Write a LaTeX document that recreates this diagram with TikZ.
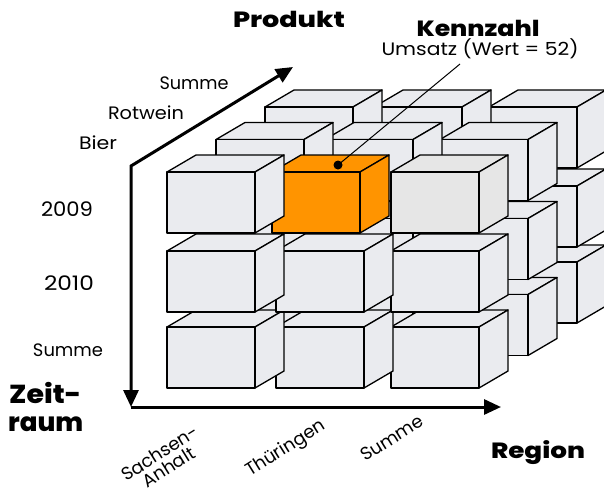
\documentclass[tikz,border=0pt]{standalone}
\usepackage{fontspec}
\setmainfont{Poppins}
\newfontfamily\heavyfont{Poppins ExtraBold}
\usetikzlibrary{arrows.meta}
\definecolor{cubegray}{HTML}{EAEBEF}
\definecolor{sumgray}{HTML}{E6E6E6}
\definecolor{cubeorange}{HTML}{FF9400}
\tikzset{
  facestyle/.style={draw=black, line width=1.3pt, line join=round},
  axis/.style={line width=3pt, line join=miter},
  lbl/.style={font=\fontsize{18}{20}\selectfont, inner sep=0pt},
  heading/.style={font=\fontsize{22}{24}\selectfont\heavyfont, inner sep=0pt},
  bigheading/.style={font=\fontsize{26}{28}\selectfont\heavyfont, inner sep=0pt},
}
% stretch a text horizontally to a given width, keeping its height
\newcommand{\fitw}[2]{\resizebox{#1}{\height}{#2}}
% one cell of the cube: #1,#2 = top-left corner of the front face, #3 = fill colour
\newcommand{\cubebox}[3]{%
  \filldraw[facestyle, fill=#3] ({#1},{#2}) -- ++(29,-17) -- ++(88,0) -- ++(-29,17) -- cycle;
  \filldraw[facestyle, fill=#3] ({#1+88},{#2}) -- ++(29,-17) -- ++(0,61) -- ++(-29,17) -- cycle;
  \filldraw[facestyle, fill=#3] ({#1},{#2}) rectangle ++(88,61);
}
\begin{document}
\begin{tikzpicture}[x=1pt, y=-1pt]
\useasboundingbox (0,0) rectangle (604,501);
\fill[white] (0,0) rectangle (604,501);

% back layers (Summe, Rotwein)
\foreach \l in {2,1} {
  \foreach \ry in {327,251,172} {
    \foreach \cx in {391,276,167} {
      \cubebox{\cx+49*\l}{\ry-32.5*\l}{cubegray}
    }
  }
}
% front layer (Bier)
\foreach \ry in {327,251} {
  \foreach \cx in {391,276,167} {
    \cubebox{\cx}{\ry}{cubegray}
  }
}
\cubebox{391}{172}{sumgray}
\cubebox{272}{172}{cubeorange}
\cubebox{167}{172}{cubegray}

% axes
\coordinate (corner) at (131,166);
\coordinate (origin) at (131,407);
\coordinate (pend) at (293,67);
\coordinate (rend) at (501,407);
\draw[axis, {Triangle[length=17pt,width=15pt]}-{Triangle[length=17pt,width=15pt]}] (pend) -- (corner) -- (origin);
\draw[axis, -{Triangle[length=17pt,width=15pt]}] (origin) -- (rend);

% measure marker
\node[circle, fill=black, inner sep=0pt, minimum size=9pt] (dot) at (338,165) {};
\coordinate (lead) at (460,64);
\draw[line width=1pt] (dot.center) -- (lead);

% headings
\node[heading, anchor=base] (produkt) at (289,27) {\fitw{112pt}{Produkt}};
\node[heading, anchor=base] (kennzahl) at (478,36) {\fitw{123pt}{Kennzahl}};
\node[lbl, anchor=base] (umsatz) at (480,55) {\fitw{197pt}{Umsatz (Wert = 52)}};
\node[bigheading, anchor=base west] (zeit) at (9,403) {\fitw{72pt}{Zeit-}};
\node[bigheading, anchor=base west] (raum) at (8,431) {\fitw{75pt}{raum}};
\node[heading, anchor=base] (region) at (538,458) {\fitw{94pt}{Region}};

% product members
\node[lbl] (psum) at (194,83) {\fitw{69pt}{Summe}};
\node[lbl] (rot) at (146,113) {\fitw{76pt}{Rotwein}};
\node[lbl] (bier) at (98,143) {\fitw{38pt}{Bier}};

% time members
\node[lbl, font=\fontsize{20}{22}\selectfont] (y9) at (67,209) {\fitw{52pt}{2009}};
\node[lbl, font=\fontsize{20}{22}\selectfont] (y10) at (69,283) {\fitw{50pt}{2010}};
\node[lbl] (tsum) at (68,350) {\fitw{70pt}{Summe}};

% region members
\node[lbl] (sa) at (164,460) {\rotatebox{32}{\shortstack{Sachsen-\\Anhalt}}};
\node[lbl] (th) at (286,449) {\rotatebox{32}{Thüringen}};
\node[lbl] (rsum) at (392,438) {\rotatebox{32}{Summe}};
\end{tikzpicture}
\end{document}
